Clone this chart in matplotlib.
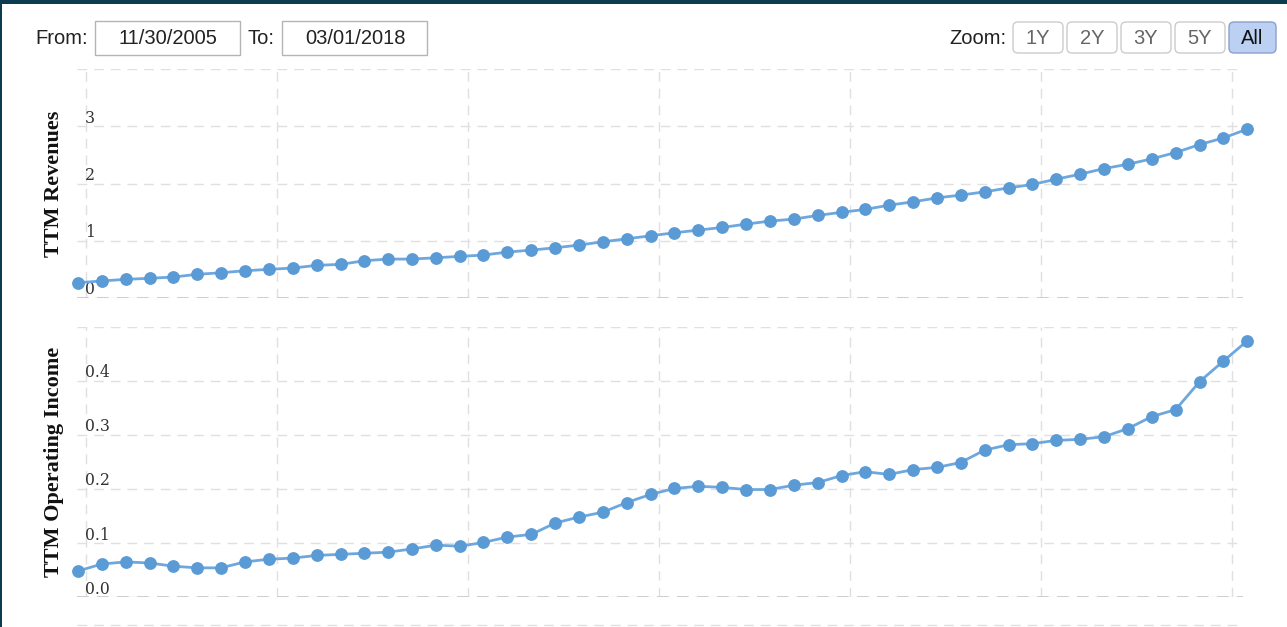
import matplotlib
matplotlib.use('Agg')
import matplotlib.pyplot as plt
import matplotlib.dates as mdates
from matplotlib.patches import Rectangle, FancyBboxPatch
from matplotlib.lines import Line2D
from matplotlib.transforms import IdentityTransform
import pandas as pd

# ---------------- data ----------------
dates = pd.date_range('2005-11-30', periods=50, freq='3ME')

revenues = [0.267, 0.297, 0.326, 0.344, 0.366, 0.413, 0.441, 0.476, 0.500, 0.523,
            0.570, 0.588, 0.651, 0.680, 0.680, 0.703, 0.727, 0.750, 0.802, 0.837,
            0.877, 0.924, 0.982, 1.034, 1.087, 1.139, 1.186, 1.233, 1.291, 1.343,
            1.378, 1.443, 1.497, 1.547, 1.622, 1.680, 1.749, 1.797, 1.854, 1.924,
            1.983, 2.076, 2.163, 2.262, 2.337, 2.430, 2.541, 2.681, 2.796, 2.948]

op_income = [0.048, 0.061, 0.065, 0.063, 0.057, 0.054, 0.054, 0.065, 0.070, 0.072,
             0.077, 0.079, 0.081, 0.083, 0.089, 0.096, 0.094, 0.101, 0.111, 0.116,
             0.137, 0.148, 0.157, 0.175, 0.190, 0.201, 0.205, 0.203, 0.199, 0.199,
             0.207, 0.212, 0.225, 0.232, 0.227, 0.236, 0.240, 0.249, 0.272, 0.282,
             0.284, 0.290, 0.292, 0.297, 0.312, 0.334, 0.347, 0.399, 0.437, 0.474]

rev_ticks = [0, 1, 2, 3]
rev_tick_labels = ['0', '1', '2', '3']
oi_ticks = [0.0, 0.1, 0.2, 0.3, 0.4]
oi_tick_labels = ['0.0', '0.1', '0.2', '0.3', '0.4']

from_label, from_date = 'From:', '11/30/2005'
to_label, to_date = 'To:', '03/01/2018'
zoom_label = 'Zoom:'
zoom_buttons = ['1Y', '2Y', '3Y', '5Y', 'All']
active_button = 'All'

# ---------------- layout ----------------
W, H = 1287, 627
fig = plt.figure(figsize=(W / 100, H / 100), dpi=100)
fig.patch.set_facecolor('white')
PIX = IdentityTransform()

LINE_C = '#6ea7dd'
MARK_C = '#5b9bd5'
GRID_C = '#e0e0e0'
AXIS_C = '#c6c6c6'
DASH = (0, (7, 5))

AX_L, AX_R = 77, 1243
span_days = (dates[-1] - dates[0]).days
days_per_px = span_days / (1247 - 78)
x0 = dates[0] - pd.Timedelta(days=(78 - AX_L) * days_per_px)
x1 = dates[0] + pd.Timedelta(days=(AX_R - 78) * days_per_px)


def make_ax(top, bottom):
    return fig.add_axes([AX_L / W, 1 - bottom / H, (AX_R - AX_L) / W, (bottom - top) / H])


def style_ax(ax, ymax, ticks, labels, grid_ticks):
    ax.set_xlim(x0, x1)
    ax.set_ylim(0, ymax)
    ax.set_yticks(grid_ticks)
    ax.xaxis.set_major_locator(mdates.YearLocator(2))
    ax.grid(True, color=GRID_C, linestyle=DASH, linewidth=1.0)
    ax.set_axisbelow(True)
    for s in ax.spines.values():
        s.set_visible(False)
    ax.tick_params(length=0, labelleft=False, labelbottom=False)
    ax.axhline(0, color=AXIS_C, linestyle=DASH, linewidth=1.2, zorder=1.5)
    for v, lab in zip(ticks, labels):
        ax.annotate(lab, xy=(0, v), xycoords=('axes fraction', 'data'),
                    xytext=(8, 8), textcoords='offset pixels',
                    ha='left', va='center', fontsize=11.3,
                    family='DejaVu Serif', color='#333333')


ax1 = make_ax(69, 298)
style_ax(ax1, 4, rev_ticks, rev_tick_labels, [0, 1, 2, 3, 4])
ax1.plot(dates, revenues, color=LINE_C, linewidth=2.0, zorder=3, clip_on=False)
ax1.plot(dates, revenues, linestyle='none', marker='o', markersize=8.2,
         color=MARK_C, zorder=4, clip_on=False)

ax2 = make_ax(327, 597)
style_ax(ax2, 0.5, oi_ticks, oi_tick_labels, [0, 0.1, 0.2, 0.3, 0.4, 0.5])
ax2.plot(dates, op_income, color=LINE_C, linewidth=2.0, zorder=3, clip_on=False)
ax2.plot(dates, op_income, linestyle='none', marker='o', markersize=8.2,
         color=MARK_C, zorder=4, clip_on=False)

# extra dashed line below the lower panel
fig.add_artist(Line2D([AX_L, AX_R], [H - 625, H - 625], transform=PIX,
                      color=GRID_C, linestyle=DASH, linewidth=1.0))

# y axis titles
fig.text(54 / W, 1 - 183.5 / H, 'TTM Revenues', rotation=90, ha='center', va='center',
         family='Liberation Serif', fontweight='bold', fontsize=16, color='#111111')
fig.text(54 / W, 1 - 462 / H, 'TTM Operating Income', rotation=90, ha='center', va='center',
         family='Liberation Serif', fontweight='bold', fontsize=16, color='#111111')

# ---------------- header controls ----------------
TXT_KW = dict(family='Liberation Sans', fontsize=14.5, va='center', transform=PIX)
YC = H - 38

fig.text(35, YC, from_label, ha='left', color='#222222', **TXT_KW)
fig.add_artist(Rectangle((95, H - 55), 145, 34, transform=PIX, facecolor='white',
                         edgecolor='#b4b4b4', linewidth=1))
fig.text(168, YC, from_date, ha='center', color='#222222', **TXT_KW)

fig.text(247, YC, to_label, ha='left', color='#222222', **TXT_KW)
fig.add_artist(Rectangle((282, H - 55), 145, 34, transform=PIX, facecolor='white',
                         edgecolor='#b4b4b4', linewidth=1))
fig.text(355, YC, to_date, ha='center', color='#222222', **TXT_KW)

fig.text(1007, YC, zoom_label, ha='right', color='#222222', **TXT_KW)
btn_x = [1013, 1067, 1121, 1175, 1229]
btn_w = [50, 50, 50, 50, 47]
for bx, bw, lab in zip(btn_x, btn_w, zoom_buttons):
    active = lab == active_button
    fig.add_artist(FancyBboxPatch((bx, H - 53), bw, 31,
                                  boxstyle='round,pad=0,rounding_size=5', transform=PIX,
                                  facecolor='#bcd0f3' if active else 'white',
                                  edgecolor='#8aa0cc' if active else '#cccccc', linewidth=1))
    fig.text(bx + bw / 2, YC, lab, ha='center',
             color='#111111' if active else '#666666', **TXT_KW)

# ---------------- frame ----------------
fig.add_artist(Rectangle((0, H - 4), W, 4, transform=PIX, facecolor='#0b3c4f',
                         edgecolor='none'))
fig.add_artist(Rectangle((0, 0), 2, H, transform=PIX, facecolor='#0b3c4f',
                         edgecolor='none'))

fig.savefig('out.png', dpi=100)
